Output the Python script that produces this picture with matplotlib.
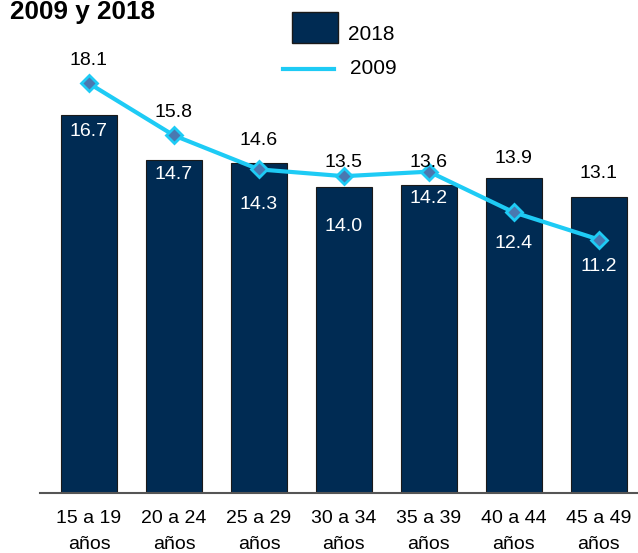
import matplotlib.pyplot as plt
from matplotlib.lines import Line2D
from matplotlib.patches import Rectangle

plt.rcParams['font.family'] = ['Liberation Sans', 'DejaVu Sans']

categories = ['15 a 19\naños', '20 a 24\naños', '25 a 29\naños', '30 a 34\naños',
              '35 a 39\naños', '40 a 44\naños', '45 a 49\naños']
values_2018 = [16.7, 14.7, 14.6, 13.5, 13.6, 13.9, 13.1]
values_2009 = [18.1, 15.8, 14.3, 14.0, 14.2, 12.4, 11.2]

# where the value labels go (pixels offset from the mark)
lab_2018 = [-16, -14, 22, 25, 23, 20, 23]
lab_2009 = [23, 23, -35, -50, -27, -31, -27]

bar_color = '#002b53'
line_color = '#1ecbf5'
marker_color = '#4a78b0'

W, H = 638, 553
fig = plt.figure(figsize=(W / 100, H / 100), dpi=100)
ax = fig.add_axes([40 / W, 60 / H, 598 / W, 493 / H])

x = range(len(categories))
ax.bar(x, values_2018, width=0.65, color=bar_color, edgecolor='#1a1a1a', linewidth=0.8, zorder=2)
ax.plot(x, values_2009, color=line_color, linewidth=3, marker='D', markersize=8,
        markerfacecolor=marker_color, markeredgecolor=line_color, markeredgewidth=2, zorder=3)

for i in x:
    v = values_2018[i]
    ax.annotate(f'{v:.1f}', (i, v), xytext=(0, lab_2018[i] * 72 / 100), textcoords='offset points',
                ha='center', va='center', fontsize=14,
                color='white' if lab_2018[i] < 0 else 'black', zorder=4)
    v = values_2009[i]
    ax.annotate(f'{v:.1f}', (i, v), xytext=(0, lab_2009[i] * 72 / 100), textcoords='offset points',
                ha='center', va='center', fontsize=14,
                color='white' if lab_2009[i] < 0 else 'black', zorder=4)

ax.set_xlim(-0.576, 6.46)
ax.set_ylim(0, 493 / 22.63)
ax.set_xticks(list(x))
ax.set_xticklabels(categories, fontsize=14, linespacing=1.7)
ax.tick_params(axis='x', length=0, pad=12)
ax.set_yticks([])
for s in ['top', 'right', 'left']:
    ax.spines[s].set_visible(False)
ax.spines['bottom'].set_color('#555555')
ax.spines['bottom'].set_linewidth(1.5)

# legend, drawn by hand to match the original placement
fig.add_artist(Rectangle((292 / W, 1 - 43 / H), 46 / W, 31 / H, transform=fig.transFigure,
                         facecolor=bar_color, edgecolor='#1a1a1a', linewidth=1))
fig.text(348 / W, 1 - 35 / H, '2018', fontsize=15, va='center', ha='left')
fig.add_artist(Line2D([283 / W, 334 / W], [1 - 69 / H, 1 - 69 / H], transform=fig.transFigure,
                      color=line_color, linewidth=3))
fig.text(350 / W, 1 - 69 / H, '2009', fontsize=15, va='center', ha='left')

fig.text(10 / W, 1 - 19.5 / H, '2009 y 2018', fontsize=18.8, fontweight='bold', va='baseline', ha='left')

fig.savefig('out.png', dpi=100)
